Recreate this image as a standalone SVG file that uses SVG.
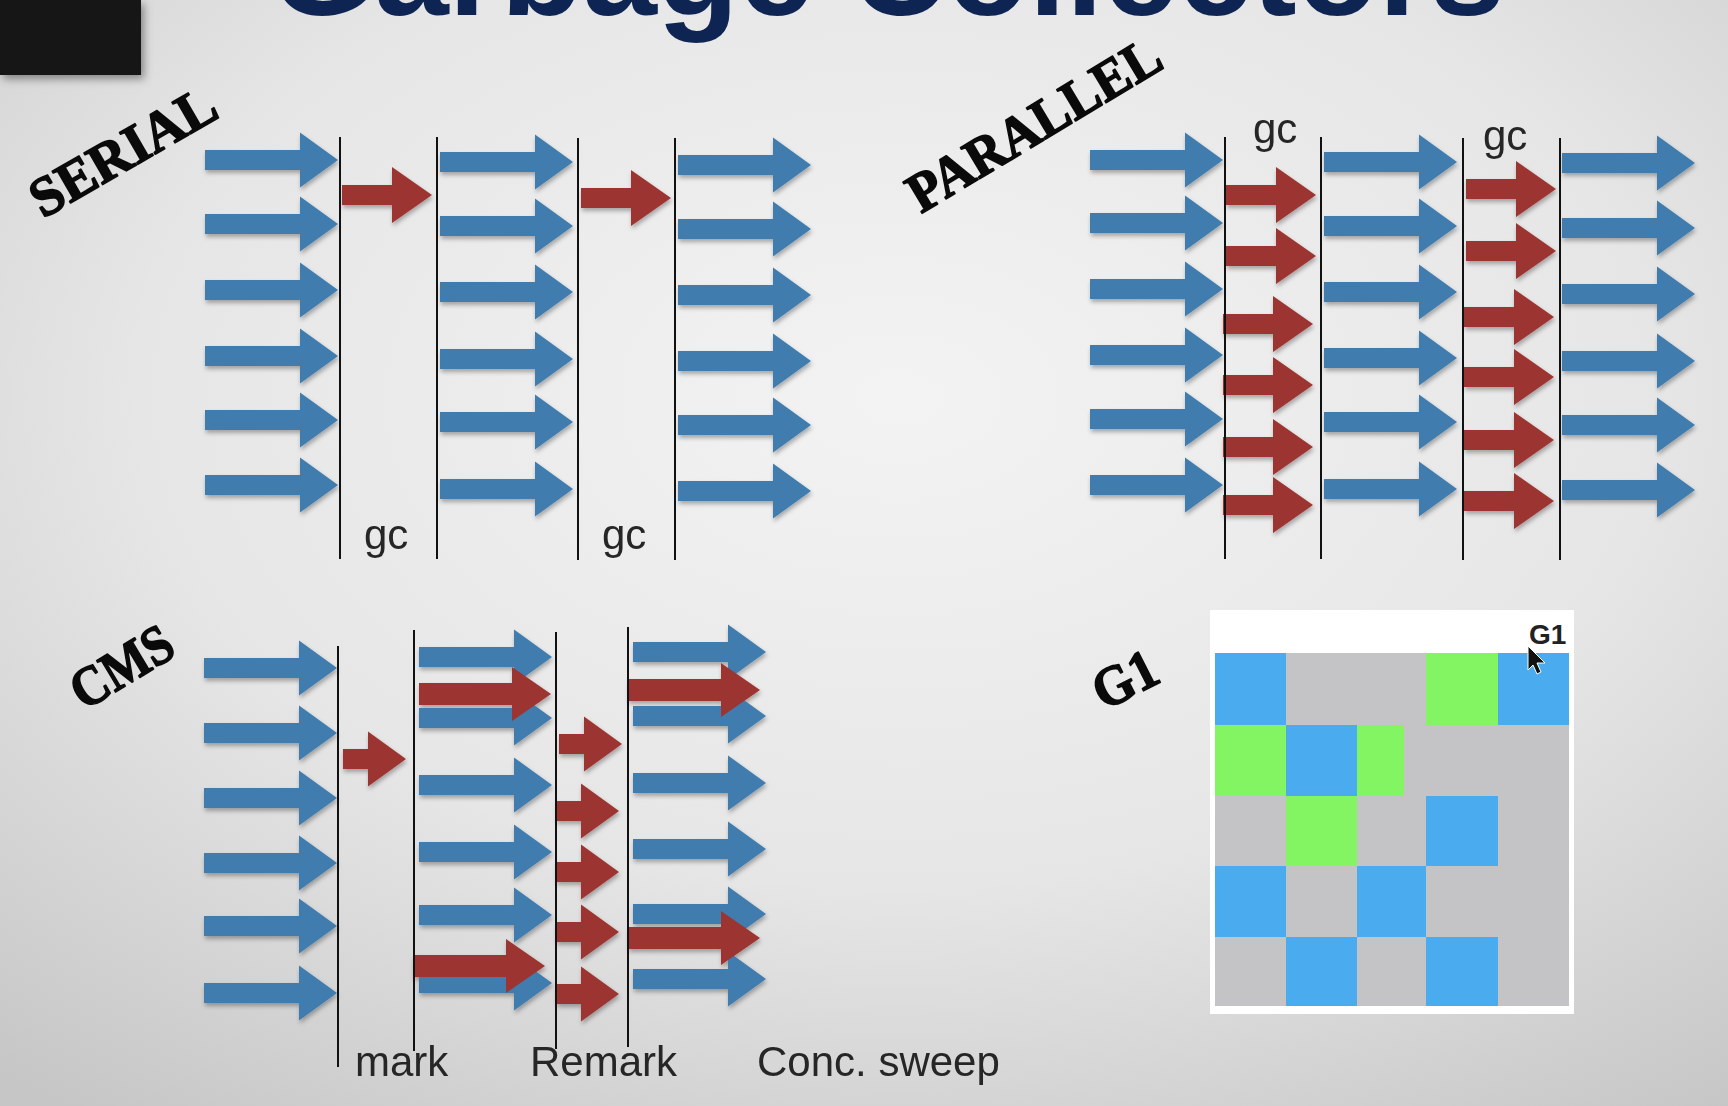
<svg xmlns="http://www.w3.org/2000/svg" xmlns:xlink="http://www.w3.org/1999/xlink" width="1728" height="1106" viewBox="0 0 1728 1106">
<defs>
<radialGradient id="bg" cx="0.52" cy="0.36" r="0.8">
<stop offset="0" stop-color="#f3f3f3"/>
<stop offset="0.55" stop-color="#e6e6e6"/>
<stop offset="1" stop-color="#c6c6c6"/>
</radialGradient>
<filter id="sh" x="-10%" y="-10%" width="130%" height="140%">
<feDropShadow dx="1" dy="3" stdDeviation="2.2" flood-color="#000" flood-opacity="0.3"/>
</filter>
<filter id="boxsh" x="-20%" y="-20%" width="150%" height="160%">
<feDropShadow dx="3" dy="4" stdDeviation="4" flood-color="#000" flood-opacity="0.4"/>
</filter>
<path id="blue" d="M0,-10 H95 V-27.5 L133,0 L95,27.5 V10 H0 Z" fill="#3f7bae"/>
<path id="red" d="M0,-10 H50 V-28 L90,0 L50,28 V10 H0 Z" fill="#9c3532"/>
<path id="reds" d="M0,-10 H25 V-27.5 L63,0 L25,27.5 V10 H0 Z" fill="#9c3532"/>
<path id="redl" d="M0,-11 H93 V-27 L132,0 L93,27 V11 H0 Z" fill="#9c3532"/>
</defs>
<style>
.ln{stroke:#111;stroke-width:2;fill:none}
.lbl{font-family:"Liberation Sans",Arial,sans-serif;font-size:42px;fill:#262626}
.stencil{font-family:"Liberation Serif","DejaVu Serif",serif;font-weight:bold;font-size:56px;fill:#0a0a0a;stroke:#0a0a0a;stroke-width:1.6px;stroke-linejoin:round}
</style>
<rect width="1728" height="1106" fill="url(#bg)"/>
<rect id="presenter" x="0" y="0" width="141" height="75" fill="#121212" filter="url(#boxsh)"/>
<text id="title" x="270" y="15" font-family="'Liberation Sans',Arial,sans-serif" font-weight="bold" font-size="134" fill="#0e2452" textLength="1235" lengthAdjust="spacingAndGlyphs">Garbage Collectors</text>

<g id="serial">
<text class="stencil" transform="translate(43,219) rotate(-30)" textLength="206" lengthAdjust="spacingAndGlyphs">SERIAL</text>
<g filter="url(#sh)">
<use href="#blue" x="205" y="160"/><use href="#blue" x="205" y="224"/><use href="#blue" x="205" y="290"/><use href="#blue" x="205" y="356"/><use href="#blue" x="205" y="420"/><use href="#blue" x="205" y="485"/>
<use href="#blue" x="440" y="162"/><use href="#blue" x="440" y="226"/><use href="#blue" x="440" y="292"/><use href="#blue" x="440" y="359"/><use href="#blue" x="440" y="422"/><use href="#blue" x="440" y="489"/>
<use href="#blue" x="678" y="165"/><use href="#blue" x="678" y="229"/><use href="#blue" x="678" y="295"/><use href="#blue" x="678" y="361"/><use href="#blue" x="678" y="425"/><use href="#blue" x="678" y="491"/>
<use href="#red" x="342" y="195"/><use href="#red" x="581" y="198"/>
</g>
<text class="lbl" x="364" y="549">gc</text>
<text class="lbl" x="602" y="549">gc</text>
</g>

<g id="parallel">
<text class="stencil" transform="translate(921,214) rotate(-31)" textLength="286" lengthAdjust="spacingAndGlyphs">PARALLEL</text>
<g filter="url(#sh)">
<use href="#blue" x="1090" y="160"/><use href="#blue" x="1090" y="223"/><use href="#blue" x="1090" y="289"/><use href="#blue" x="1090" y="355"/><use href="#blue" x="1090" y="419"/><use href="#blue" x="1090" y="485"/>
<use href="#blue" x="1324" y="162"/><use href="#blue" x="1324" y="226"/><use href="#blue" x="1324" y="292"/><use href="#blue" x="1324" y="358"/><use href="#blue" x="1324" y="422"/><use href="#blue" x="1324" y="489"/>
<use href="#blue" x="1562" y="163"/><use href="#blue" x="1562" y="228"/><use href="#blue" x="1562" y="294"/><use href="#blue" x="1562" y="361"/><use href="#blue" x="1562" y="425"/><use href="#blue" x="1562" y="490"/>
<use href="#red" x="1226" y="195"/><use href="#red" x="1226" y="256"/><use href="#red" x="1223" y="324"/><use href="#red" x="1223" y="385"/><use href="#red" x="1223" y="447"/><use href="#red" x="1223" y="505"/>
<use href="#red" x="1466" y="189"/><use href="#red" x="1466" y="251"/><use href="#red" x="1464" y="317"/><use href="#red" x="1464" y="377"/><use href="#red" x="1464" y="440"/><use href="#red" x="1464" y="501"/>
</g>
<text class="lbl" x="1253" y="143">gc</text>
<text class="lbl" x="1483" y="150">gc</text>
</g>

<g id="cms">
<text class="stencil" transform="translate(84,711) rotate(-31)" textLength="110" lengthAdjust="spacingAndGlyphs">CMS</text>
<g filter="url(#sh)">
<use href="#blue" x="204" y="668"/><use href="#blue" x="204" y="733"/><use href="#blue" x="204" y="798"/><use href="#blue" x="204" y="863"/><use href="#blue" x="204" y="926"/><use href="#blue" x="204" y="993"/>
<use href="#blue" x="419" y="657"/><use href="#blue" x="419" y="718"/><use href="#blue" x="419" y="785"/><use href="#blue" x="419" y="852"/><use href="#blue" x="419" y="915"/><use href="#blue" x="419" y="983"/>
<use href="#blue" x="633" y="652"/><use href="#blue" x="633" y="716"/><use href="#blue" x="633" y="783"/><use href="#blue" x="633" y="849"/><use href="#blue" x="633" y="914"/><use href="#blue" x="633" y="979"/>
<use href="#reds" x="343" y="759"/>
<use href="#redl" x="419" y="694"/><use href="#redl" x="413" y="966"/>
<use href="#reds" x="559" y="744"/><use href="#reds" x="556" y="811"/><use href="#reds" x="556" y="872"/><use href="#reds" x="556" y="932"/><use href="#reds" x="556" y="994"/>
<use href="#redl" x="628" y="690"/><use href="#redl" x="628" y="938"/>
</g>
<text class="lbl" x="355" y="1076">mark</text>
<text class="lbl" x="530" y="1076">Remark</text>
<text class="lbl" x="757" y="1076">Conc. sweep</text>
</g>

<g id="connectors">
<line class="ln" x1="340" y1="137" x2="340" y2="559"/>
<line class="ln" x1="437" y1="137" x2="437" y2="559"/>
<line class="ln" x1="578" y1="138" x2="578" y2="560"/>
<line class="ln" x1="675" y1="138" x2="675" y2="560"/>
<line class="ln" x1="1225" y1="137" x2="1225" y2="559"/>
<line class="ln" x1="1321" y1="137" x2="1321" y2="559"/>
<line class="ln" x1="1463" y1="138" x2="1463" y2="560"/>
<line class="ln" x1="1560" y1="138" x2="1560" y2="560"/>
<line class="ln" x1="338" y1="646" x2="338" y2="1067"/>
<line class="ln" x1="414" y1="630" x2="414" y2="1051"/>
<line class="ln" x1="556" y1="632" x2="556" y2="1049"/>
<line class="ln" x1="628" y1="627" x2="628" y2="1047"/>
</g>

<g id="g1">
<text class="stencil" transform="translate(1104,711) rotate(-27)" textLength="66" lengthAdjust="spacingAndGlyphs" font-size="58">G1</text>
<rect x="1210" y="610" width="364" height="404" fill="#ffffff"/>
<rect x="1215" y="653" width="354" height="353" fill="#c4c4c6"/>
<g fill="#4aabef">
<rect x="1215" y="653" width="71" height="72"/>
<rect x="1498" y="653" width="71" height="72"/>
<rect x="1286" y="725" width="71" height="71"/>
<rect x="1426" y="796" width="72" height="70"/>
<rect x="1215" y="866" width="71" height="71"/>
<rect x="1357" y="866" width="69" height="71"/>
<rect x="1286" y="937" width="71" height="69"/>
<rect x="1426" y="937" width="72" height="69"/>
</g>
<g fill="#84f562">
<rect x="1426" y="653" width="72" height="72"/>
<rect x="1215" y="725" width="71" height="71"/>
<rect x="1357" y="725" width="47" height="71"/>
<rect x="1286" y="796" width="71" height="70"/>
</g>
<text x="1529" y="644" font-family="'Liberation Sans',Arial,sans-serif" font-weight="bold" font-size="28" fill="#222">G1</text>
<polygon points="1528,646 1528,670 1533,665 1537,674 1541,672 1537,663 1545,663" fill="#111" stroke="#fff" stroke-width="1"/>
</g>
</svg>
